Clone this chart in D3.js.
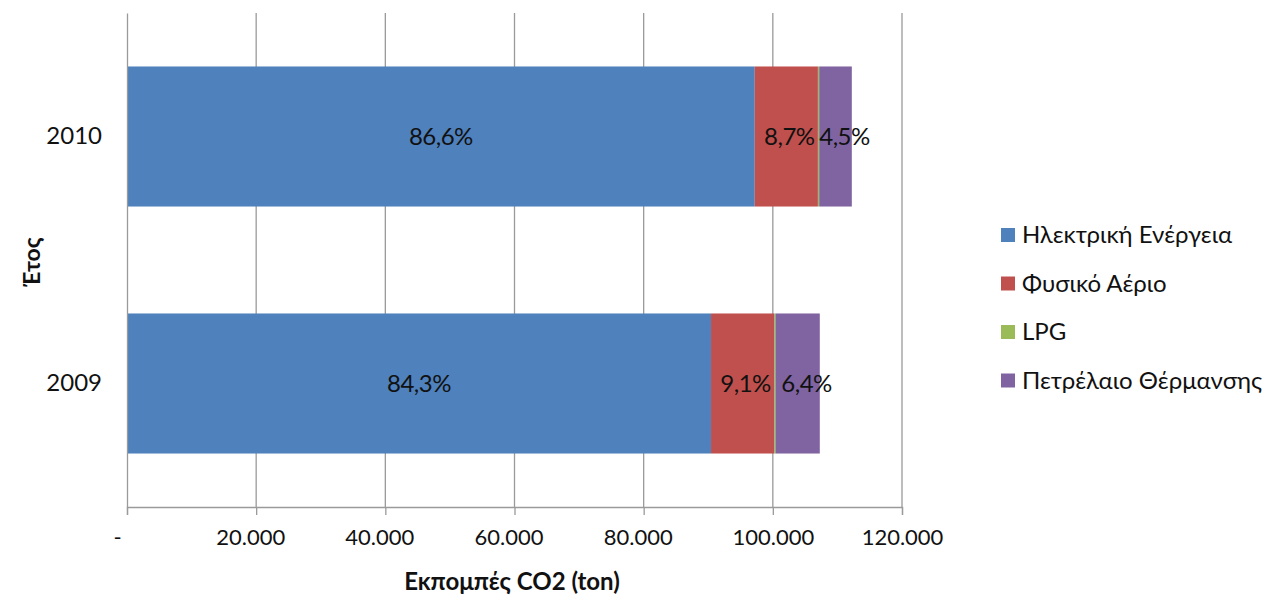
<!DOCTYPE html>
<html><head><meta charset="utf-8">
<script src="https://cdn.jsdelivr.net/npm/d3@7"></script>
<style>body{margin:0;background:#fff;} svg{display:block;font-family:Lato,"Open Sans",sans-serif;}</style>
</head><body>
<svg id="c" width="1275" height="596"></svg>
<script>
const years = ["2010", "2009"];
const seriesNames = ["Ηλεκτρική Ενέργεια", "Φυσικό Αέριο", "LPG", "Πετρέλαιο Θέρμανσης"];
const electricity = [97200, 90430];
const naturalGas = [9780, 9760];
const lpg = [200, 210];
const heatingOil = [5050, 6870];
const percentLabels = [["86,6%", "8,7%", "", "4,5%"], ["84,3%", "9,1%", "", "6,4%"]];
const xTicks = [0, 20000, 40000, 60000, 80000, 100000, 120000];
const colors = ["#4F81BD", "#C0504D", "#9BBB59", "#8064A2"];

const seriesVals = [electricity, naturalGas, lpg, heatingOil];
const rows = years.map((y, i) => {
  const o = {year: y};
  seriesNames.forEach((s, k) => o[s] = seriesVals[k][i]);
  return o;
});
const stacked = d3.stack().keys(seriesNames)(rows);

const svg = d3.select("#c");
const m = {left: 127, top: 13, right: 902, bottom: 507};
const x = d3.scaleLinear().domain([0, 120000]).range([m.left, m.right]);
const y = d3.scaleBand().domain(years).range([m.top, m.bottom]).paddingInner(0.433).paddingOuter(0.2165);

// gridlines
svg.append("g").selectAll("line").data(xTicks.slice(1)).join("line")
  .attr("x1", d => x(d)).attr("x2", d => x(d)).attr("y1", m.top).attr("y2", m.bottom)
  .attr("stroke", "#9a9a9a").attr("stroke-width", 1.3);

// bars
const g = svg.append("g");
stacked.forEach((s, k) => {
  g.append("g").attr("fill", colors[k]).selectAll("rect").data(s).join("rect")
    .attr("x", d => x(d[0])).attr("width", d => x(d[1]) - x(d[0]))
    .attr("y", d => y(d.data.year)).attr("height", y.bandwidth());
});

// labels
const labelShift = [0, 3, 0, 9];
stacked.forEach((s, k) => {
  svg.append("g").selectAll("text").data(s).join("text")
    .attr("x", d => (x(d[0]) + x(d[1])) / 2 + labelShift[k])
    .attr("y", d => y(d.data.year) + y.bandwidth() / 2)
    .attr("dy", "0.35em").attr("text-anchor", "middle")
    .attr("font-size", 24).attr("fill", "#111")
    .attr("letter-spacing", -0.5)
    .text((d, i) => percentLabels[i][k]);
});

// x axis
const xAxis = d3.axisBottom(x).tickValues(xTicks).tickSize(8).tickPadding(14)
  .tickFormat(d => d === 0 ? "-" : d3.format(",")(d).replace(/,/g, "."));
const ax = svg.append("g").attr("transform", `translate(0,${m.bottom})`).call(xAxis);
ax.select(".domain").attr("stroke", "#9a9a9a").attr("stroke-width", 1.3);
ax.selectAll(".tick line").attr("stroke", "#9a9a9a").attr("stroke-width", 1.3);
ax.selectAll(".tick text").attr("font-size", 22).attr("fill", "#111").attr("font-family", "Lato,sans-serif");
ax.selectAll(".tick").filter(d => d === 0).select("text").attr("dx", -10);
ax.selectAll(".tick").filter(d => d > 0 && d < 100000).select("text").attr("dx", -6);

// y axis
const yAxis = d3.axisLeft(y).tickSize(0).tickPadding(25);
const ay = svg.append("g").attr("transform", `translate(${m.left},0)`).call(yAxis);
ay.select(".domain").attr("stroke", "#9a9a9a").attr("stroke-width", 1.3);
ay.selectAll(".tick text").attr("font-size", 24).attr("fill", "#111").attr("font-family", "Lato,sans-serif");

// titles
svg.append("text").attr("x", 512).attr("y", 590).attr("text-anchor", "middle")
  .attr("font-size", 24).attr("font-weight", "bold").attr("fill", "#111").text("Εκπομπές CO2 (ton)");
svg.append("text").attr("transform", "translate(40,262) rotate(-90)").attr("text-anchor", "middle")
  .attr("font-size", 23).attr("font-weight", "bold").attr("fill", "#111").text("Έτος");

// legend
const lg = svg.append("g").attr("transform", "translate(1001,235)");
seriesNames.forEach((s, k) => {
  const r = lg.append("g").attr("transform", `translate(0,${k * 48.5})`);
  r.append("rect").attr("x", 0).attr("y", -7).attr("width", 14).attr("height", 14).attr("fill", colors[k]);
  r.append("text").attr("x", 21).attr("y", 0).attr("dy", "0.35em").attr("font-size", 24).attr("fill", "#111").text(s);
});
</script>
</body></html>
